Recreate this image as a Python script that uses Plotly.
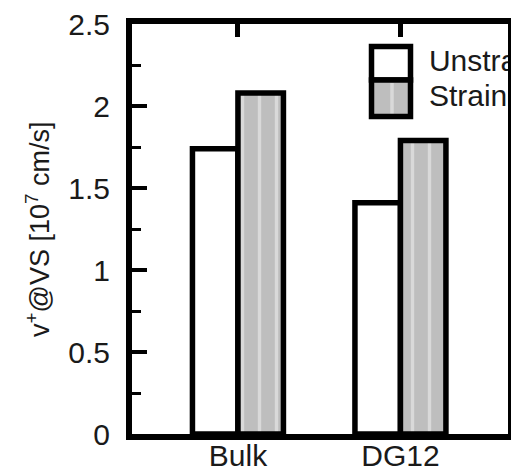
import plotly.graph_objects as go

# Data
categories = ["Bulk", "DG12"]
series_names = ["Unstrained", "Strained"]
unstrained = [1.74, 1.41]
strained = [2.08, 1.79]
y_ticks = [0, 0.5, 1, 1.5, 2, 2.5]
y_tick_labels = ["0", "0.5", "1", "1.5", "2", "2.5"]

W, H = 511, 469
ML, MR, MT, MB = 132, 3, 24, 35
X_RANGE = [-0.652, 1.662]
Y_RANGE = [0, 2.5]
FONT = "Liberation Sans, Arial, Helvetica, sans-serif"
FS = 30


def px_x(px):
    return (px - ML) / (W - ML - MR)


def px_y(py):
    return (H - MB - py) / (H - MT - MB)


xpos = list(range(len(categories)))

fig = go.Figure()
fig.add_trace(go.Bar(
    x=xpos, y=unstrained, name=series_names[0],
    marker=dict(color="white", line=dict(color="black", width=5.5)),
))
fig.add_trace(go.Bar(
    x=xpos, y=strained, name=series_names[1],
    marker=dict(color="#bebebe", line=dict(color="black", width=5.5),
                pattern=dict(shape="|", fgcolor="#d9d9d9", bgcolor="#bebebe",
                             size=17, solidity=0.2, fillmode="replace")),
))

# Legend labels, clipped by the plot frame
leg_x = (429 - 238) / 162.5
leg_y = [(H - MB - 63) / 164.0, (H - MB - 98) / 164.0]
fig.add_trace(go.Scatter(
    x=[leg_x, leg_x], y=leg_y, mode="text", text=series_names,
    textposition="middle right", cliponaxis=True, showlegend=False,
    textfont=dict(family=FONT, size=FS, color="#1a1a1a"), hoverinfo="skip",
))

shapes = []
# Legend swatches
bx0, bx1 = 371.5, 410.5
shapes.append(dict(type="rect", xref="paper", yref="paper",
                   x0=px_x(bx0), x1=px_x(bx1), y0=px_y(80), y1=px_y(46.5),
                   fillcolor="white", line=dict(color="black", width=5.5)))
shapes.append(dict(type="rect", xref="paper", yref="paper",
                   x0=px_x(bx0), x1=px_x(bx1), y0=px_y(116.5), y1=px_y(80),
                   fillcolor="#bebebe", line=dict(width=0)))
shapes.append(dict(type="line", xref="paper", yref="paper",
                   x0=px_x(392), x1=px_x(392), y0=px_y(114), y1=px_y(83),
                   line=dict(color="#d9d9d9", width=3.5)))
shapes.append(dict(type="rect", xref="paper", yref="paper",
                   x0=px_x(bx0), x1=px_x(bx1), y0=px_y(116.5), y1=px_y(80),
                   fillcolor="rgba(0,0,0,0)", line=dict(color="black", width=5.5)))

fig.update_layout(
    width=W, height=H,
    margin=dict(l=ML, r=MR, t=MT, b=MB, pad=0),
    paper_bgcolor="white", plot_bgcolor="white",
    barmode="group", bargap=0.44, bargroupgap=0,
    showlegend=False,
    font=dict(family=FONT, size=FS, color="#1a1a1a"),
    shapes=shapes,
    xaxis=dict(
        range=X_RANGE, tickvals=xpos, ticktext=categories,
        showgrid=False, zeroline=False, ticks="",
        showline=True, linecolor="black", linewidth=6, mirror=True,
        tickfont=dict(family=FONT, size=FS), automargin=False,
        ticklabelstandoff=-10,
    ),
    xaxis2=dict(
        overlaying="x", side="top", range=X_RANGE, tickvals=xpos,
        showticklabels=False, ticks="inside", ticklen=13, tickwidth=5,
        tickcolor="black", showgrid=False, zeroline=False, showline=False,
        automargin=False,
    ),
    yaxis=dict(
        range=Y_RANGE, tickvals=y_ticks, ticktext=y_tick_labels,
        ticks="inside", ticklen=15, tickwidth=4, tickcolor="black",
        minor=dict(ticks="inside", ticklen=9, tickwidth=3, tickcolor="black", dtick=0.25,
                   tick0=0, showgrid=False),
        showgrid=False, zeroline=False,
        showline=True, linecolor="black", linewidth=6, mirror=True,
        tickfont=dict(family=FONT, size=FS),
        ticklabelstandoff=10, automargin=False,
    ),
)

# Invisible point so the top axis is drawn
fig.add_trace(go.Scatter(x=[xpos[0]], y=[0], xaxis="x2", mode="markers",
                         marker=dict(opacity=0), showlegend=False, hoverinfo="skip"))

fig.add_annotation(
    xref="paper", yref="paper", x=px_x(38), y=0.5,
    text="v<sup>+</sup>@VS [10<sup>7</sup> cm/s]", textangle=-90,
    showarrow=False, font=dict(family=FONT, size=27, color="#1a1a1a"),
    xanchor="center", yanchor="middle",
)

fig.write_html(
    "out.html",
    post_script="document.body.style.margin='0';document.body.style.overflow='hidden';",
)
